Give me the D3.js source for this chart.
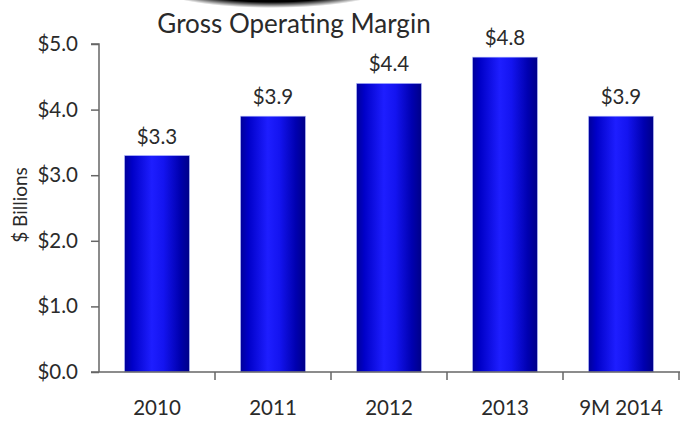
<!DOCTYPE html>
<html><head><meta charset="utf-8">
<script src="https://cdn.jsdelivr.net/npm/d3@7"></script>
<style>body{margin:0;background:#fff}svg{display:block}</style>
</head><body>
<script>
const categories = ["2010","2011","2012","2013","9M 2014"];
const values = [3.3, 3.9, 4.4, 4.8, 3.9];
const valueLabels = ["$3.3","$3.9","$4.4","$4.8","$3.9"];
const yTicks = [0,1,2,3,4,5];
const title = "Gross Operating Margin";
const yTitle = "$ Billions";

const W = 680, H = 424;
const m = {left: 99, right: 1};
const svg = d3.select("body").append("svg").attr("width", W).attr("height", H);
const defs = svg.append("defs");
const g1 = defs.append("linearGradient").attr("id","barg").attr("x1","0").attr("x2","1").attr("y1","0").attr("y2","0");
[[0,"#00009a"],[0.12,"#0000c8"],[0.42,"#1e1eff"],[0.6,"#1414f0"],[0.85,"#0000b0"],[1,"#000088"]]
  .forEach(([o,c]) => g1.append("stop").attr("offset", o).attr("stop-color", c));
const rg = defs.append("radialGradient").attr("id","swoosh");
[[0,"#000"],[0.75,"#000"],[1,"rgba(0,0,0,0)"]].forEach(([o,c]) => rg.append("stop").attr("offset",o).attr("stop-color",c));

svg.append("ellipse").attr("cx", 272).attr("cy", -16).attr("rx", 122).attr("ry", 24).attr("fill","url(#swoosh)");

const x = d3.scaleBand().domain(categories).range([m.left, W - m.right]).paddingInner(0.44).paddingOuter(0.22);
const y = d3.scaleLinear().domain([0,5]).range([372, 44]);

svg.append("g").selectAll("rect").data(values).join("rect")
  .attr("x", (d,i) => x(categories[i]))
  .attr("y", d => y(d))
  .attr("width", x.bandwidth())
  .attr("height", d => y(0) - y(d))
  .attr("fill", "url(#barg)")
  .attr("stroke", "#b8c0ff").attr("stroke-width", 0.6);

const font = "Lato, sans-serif";
const fs = 20.5;
const tc = "#2a2a2a";
svg.append("g").selectAll("text").data(values).join("text")
  .attr("x", (d,i) => x(categories[i]) + x.bandwidth()/2)
  .attr("y", d => y(d) - 12)
  .attr("text-anchor","middle").attr("font-family", font).attr("font-size", fs).attr("fill",tc)
  .text((d,i) => valueLabels[i]);

const ya = svg.append("g").attr("transform", `translate(${m.left},0)`)
  .call(d3.axisLeft(y).tickValues(yTicks).tickFormat(d => "$" + d3.format(".1f")(d)).tickSize(8).tickPadding(13));
ya.select(".domain").attr("stroke","#666").attr("stroke-width",1.5).attr("d", `M-8,${y(5)}H0V${y(0)}`);
ya.selectAll(".tick line").attr("stroke","#666").attr("stroke-width",1.5);
ya.selectAll("text").attr("font-family", font).attr("font-size", fs).attr("fill",tc);

// x axis with ticks between categories
const xb = d3.scaleLinear().domain([0, categories.length]).range([m.left, W - m.right]);
const xa = svg.append("g").attr("transform", `translate(0,${y(0)})`);
xa.append("line").attr("x1", m.left - 8).attr("x2", W).attr("y1",0).attr("y2",0).attr("stroke","#666").attr("stroke-width",1.5);
xa.selectAll("line.t").data(d3.range(1, categories.length + 1)).join("line").attr("class","t")
  .attr("x1", d => xb(d)).attr("x2", d => xb(d)).attr("y1", 0).attr("y2", 8).attr("stroke","#666").attr("stroke-width",1.5);
xa.selectAll("text").data(categories).join("text")
  .attr("x", d => x(d) + x.bandwidth()/2).attr("y", 43)
  .attr("text-anchor","middle").attr("font-family", font).attr("font-size", fs).attr("fill",tc)
  .text(d => d);

svg.append("text").attr("x", 294).attr("y", 33).attr("text-anchor","middle")
  .attr("font-family", font).attr("font-size", 26).attr("fill",tc).text(title);

svg.append("text").attr("transform", "translate(27,205) rotate(-90)").attr("text-anchor","middle")
  .attr("font-family", font).attr("font-size", 19).attr("fill",tc).text(yTitle);
</script>
</body></html>
